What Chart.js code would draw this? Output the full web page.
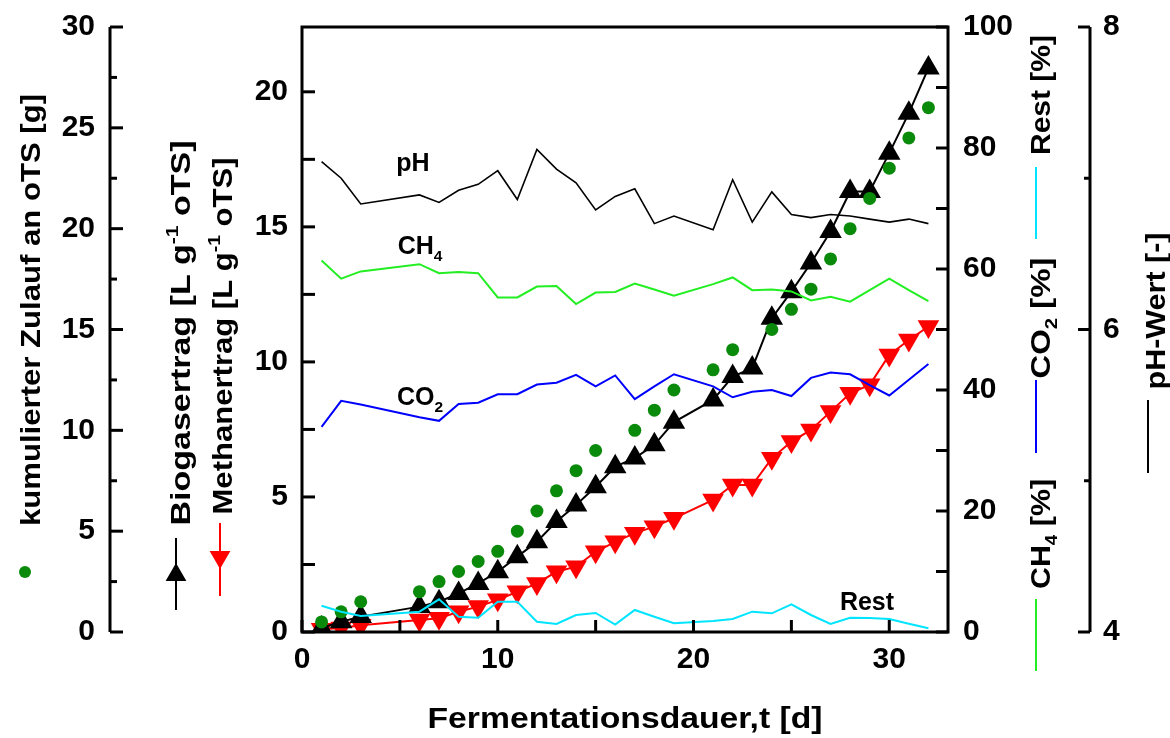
<!DOCTYPE html>
<html>
<head>
<meta charset="utf-8">
<script src="https://cdn.jsdelivr.net/npm/chart.js@4.4.1/dist/chart.umd.min.js"></script>
<style>
  body { margin: 0; background: #fff; }
  canvas { display: block; }
</style>
</head>
<body>
<canvas id="chart" width="1170" height="738"></canvas>
<script>
// days with measurements
var days = [1, 2, 3, 6, 7, 8, 9, 10, 11, 12, 13, 14, 15, 16, 17, 18, 19, 21, 22, 23, 24, 25, 26, 27, 28, 29, 30, 31, 32];

// yields [L g-1 oTS]
var biogas = [0.15, 0.38, 0.57, 0.94, 1.12, 1.43, 1.8, 2.23, 2.79, 3.34, 4.09, 4.7, 5.38, 6.12, 6.44, 6.93, 7.77,
              8.59, 9.46, 9.77, 11.62, 12.6, 13.66, 14.83, 16.31, 16.31, 17.73, 19.21, 20.88];
var methan = [0.1, 0.15, 0.25, 0.44, 0.51, 0.75, 0.94, 1.19, 1.49, 1.8, 2.23, 2.42, 2.97, 3.34, 3.66, 3.9, 4.21,
              4.89, 5.44, 5.44, 6.43, 7.05, 7.48, 8.16, 8.84, 9.15, 10.26, 10.81, 11.31];

// cumulative feed [g]
var zulauf = [0.5, 1, 1.5, 2, 2.5, 3, 3.5, 4, 5, 6, 7, 8, 9, null, 10, 11, 12,
              13, 14, null, 15, 16, 17, 18.5, 20, 21.5, 23, 24.5, 26];

// gas composition [%]
var ch4 = [61.4, 58.4, 59.6, 60.8, 59.3, 59.5, 59.3, 55.3, 55.3, 57.1, 57.2, 54.2, 56.1, 56.2, 57.6, 56.6, 55.6,
           57.5, 58.6, 56.5, 56.6, 56.3, 54.8, 55.4, 54.6, 56.5, 58.4, 56.5, 54.7];
var co2 = [33.9, 38.2, 37.6, 35.5, 34.9, 37.7, 37.9, 39.3, 39.3, 40.9, 41.2, 42.5, 40.6, 42.4, 38.5, 40.6, 42.6,
           40.6, 38.8, 39.7, 40.0, 39.0, 42.0, 42.9, 42.6, 40.8, 39.1, 41.7, 44.3];
var rest = [4.35, 3.36, 2.64, 3.36, 5.4, 2.53, 2.36, 5.0, 5.0, 1.7, 1.32, 2.81, 3.14, 1.24, 3.64, 2.53, 1.44,
            1.82, 2.15, 3.36, 3.09, 4.58, 2.81, 1.32, 2.36, 2.31, 2.15, 1.37, 0.61];

// pH
var ph = [7.11, 7.0, 6.83, 6.89, 6.84, 6.92, 6.96, 7.05, 6.86, 7.19, 7.06, 6.97, 6.79, 6.88, 6.93, 6.70, 6.75,
          6.66, 6.99, 6.71, 6.91, 6.76, 6.74, 6.76, 6.75, 6.73, 6.71, 6.73, 6.70];

var FONT = "'Liberation Sans', Arial, sans-serif";

function pts(arr) {
    return days.map(function(d, i) { return { x: d, y: arr[i] }; });
}

function lineSet(arr, color, axis, width) {
    return { data: pts(arr), yAxisID: axis, borderColor: color, borderWidth: width || 2,
             pointRadius: 0, showLine: true, fill: false, tension: 0 };
}

// rich text: parts [{t, sub, sup}] centered at cx,cy, rotated, stretched to len
function richText(ctx, parts, cx, cy, angle, size, len) {
    ctx.save();
    ctx.translate(cx, cy);
    ctx.rotate(angle);
    var w = 0;
    parts.forEach(function(p) {
        ctx.font = 'bold ' + ((p.sub || p.sup) ? size * 0.62 : size) + 'px ' + FONT;
        w += ctx.measureText(p.t).width;
    });
    if (len) ctx.scale(len / w, 1);
    var x = -w / 2, base = size * 0.36;
    ctx.fillStyle = '#000';
    ctx.textBaseline = 'alphabetic';
    ctx.textAlign = 'left';
    parts.forEach(function(p) {
        ctx.font = 'bold ' + ((p.sub || p.sup) ? size * 0.62 : size) + 'px ' + FONT;
        var y = base + (p.sub ? size * 0.28 : 0) - (p.sup ? size * 0.42 : 0);
        ctx.fillText(p.t, x, y);
        x += ctx.measureText(p.t).width;
    });
    ctx.restore();
}

function vline(ctx, x, y1, y2, color, w) {
    ctx.beginPath(); ctx.strokeStyle = color; ctx.lineWidth = w || 2;
    ctx.moveTo(x, y1); ctx.lineTo(x, y2); ctx.stroke();
}

function tri(ctx, x, y, r, down, color) {
    var s = down ? -1 : 1;
    ctx.beginPath(); ctx.fillStyle = color;
    ctx.moveTo(x, y - s * r);
    ctx.lineTo(x + r * 0.866, y + s * r * 0.5);
    ctx.lineTo(x - r * 0.866, y + s * r * 0.5);
    ctx.closePath(); ctx.fill();
}

var decor = {
    id: 'decor',
    afterDraw: function(chart) {
        var ctx = chart.ctx, a = chart.chartArea, s = chart.scales;
        ctx.save();
        ctx.lineCap = 'butt';
        // frame
        ctx.strokeStyle = '#000'; ctx.lineWidth = 3;
        ctx.strokeRect(a.left, a.top, a.right - a.left, a.bottom - a.top);

        function ticksY(scale, x, step, from, to, len, dir, minorLen) {
            for (var v = from, i = 0; v <= to + 1e-9; v += step, i++) {
                var py = scale.getPixelForValue(v);
                var l = (minorLen && i % 2 === 1) ? minorLen : len;
                ctx.beginPath(); ctx.lineWidth = 3;
                ctx.moveTo(x, py); ctx.lineTo(x + dir * l, py); ctx.stroke();
            }
        }
        // x ticks
        for (var v = 0; v <= 30; v += 5) {
            var px = s.x.getPixelForValue(v);
            ctx.beginPath(); ctx.lineWidth = 3;
            ctx.moveTo(px, a.bottom); ctx.lineTo(px, a.bottom - 12); ctx.stroke();
        }
        ticksY(s.y, a.left, 2.5, 0, 22.4, 13, 1);
        ticksY(s.yP, a.right, 10, 0, 100, 12, -1);
        // outer left axis
        var xo = s.yZ.right;
        vline(ctx, xo, s.yZ.getPixelForValue(30), s.yZ.getPixelForValue(0), '#000', 3);
        ticksY(s.yZ, xo, 2.5, 0, 30, 13, 1, 7);
        // pH axis
        var xh = s.yH.left;
        vline(ctx, xh, s.yH.getPixelForValue(8), s.yH.getPixelForValue(4), '#000', 3);
        ticksY(s.yH, xh, 1, 4, 8, 12, -1, 6);

        // labels in plot
        richText(ctx, [{ t: 'pH' }], 413, 162, 0, 25);
        richText(ctx, [{ t: 'CH' }, { t: '4', sub: 1 }], 420, 245, 0, 25);
        richText(ctx, [{ t: 'CO' }, { t: '2', sub: 1 }], 420, 396, 0, 25);
        richText(ctx, [{ t: 'Rest' }], 867, 601, 0, 25);

        // x title
        richText(ctx, [{ t: 'Fermentationsdauer,t [d]' }], 625, 718, 0, 29, 395);

        // left titles + legend symbols
        var up = -Math.PI / 2;
        richText(ctx, [{ t: 'kumulierter Zulauf an oTS [g]' }], 30, 310, up, 27, 432);
        ctx.beginPath(); ctx.fillStyle = '#0a8a0a';
        ctx.arc(25, 572, 6, 0, Math.PI * 2); ctx.fill();

        richText(ctx, [{ t: 'Biogasertrag [L g' }, { t: '-1', sup: 1 }, { t: ' oTS]' }], 180, 333, up, 27, 385);
        vline(ctx, 176, 538, 610, '#000', 2);
        tri(ctx, 176, 575, 12, false, '#000');

        richText(ctx, [{ t: 'Methanertrag [L g' }, { t: '-1', sup: 1 }, { t: ' oTS]' }], 222, 336, up, 27, 357);
        vline(ctx, 220, 523, 596, '#ff0000', 2);
        tri(ctx, 220, 557, 12, true, '#ff0000');

        // right titles + legend lines
        richText(ctx, [{ t: 'Rest [%]' }], 1040, 95, up, 27, 120);
        vline(ctx, 1036, 167, 239, '#00e5ff', 2);
        richText(ctx, [{ t: 'CO' }, { t: '2', sub: 1 }, { t: ' [%]' }], 1040, 318, up, 27, 121);
        vline(ctx, 1036, 380, 453, '#0000ff', 2);
        richText(ctx, [{ t: 'CH' }, { t: '4', sub: 1 }, { t: ' [%]' }], 1040, 534, up, 27, 110);
        vline(ctx, 1036, 599, 671, '#22ee22', 2);
        richText(ctx, [{ t: 'pH-Wert [-]' }], 1155, 311, up, 27, 157);
        vline(ctx, 1148, 400, 473, '#000', 2);

        ctx.restore();
    }
};

var tickFont = { family: FONT, size: 30, weight: 'bold' };

function yAxis(pos, min, max, step, weight, width, pad, cb) {
    return {
        type: 'linear', position: pos, min: min, max: max, weight: weight,
        grid: { display: false, drawTicks: false }, border: { display: false },
        ticks: { stepSize: step, includeBounds: false, padding: pad, color: '#000', font: tickFont,
                 callback: cb || function(v) { return v; } },
        afterFit: function(scale) {
            scale.width = width;
            scale.paddingTop = 0;
            scale.paddingBottom = 0;
        }
    };
}

new Chart(document.getElementById('chart'), {
    type: 'scatter',
    data: {
        datasets: [
            lineSet(ph, '#000000', 'yH', 1.6),
            lineSet(rest, '#00e5ff', 'yP'),
            lineSet(co2, '#0000ff', 'yP'),
            lineSet(ch4, '#22ee22', 'yP'),
            { data: pts(zulauf), yAxisID: 'yZ', showLine: false, pointStyle: 'circle', pointRadius: 6.5,
              backgroundColor: '#0a8a0a', borderWidth: 0 },
            { data: pts(biogas), yAxisID: 'y', showLine: true, borderColor: '#000', borderWidth: 2,
              pointStyle: 'triangle', pointRadius: 13, backgroundColor: '#000', pointBorderWidth: 0 },
            { data: pts(methan), yAxisID: 'y', showLine: true, borderColor: '#ff0000', borderWidth: 2,
              pointStyle: 'triangle', pointRotation: 180, pointRadius: 12.5, backgroundColor: '#ff0000',
              pointBorderWidth: 0 }
        ]
    },
    options: {
        responsive: false,
        animation: false,
        devicePixelRatio: 1,
        layout: { padding: { left: 0, right: 0, top: 27, bottom: 0 } },
        plugins: { legend: { display: false }, tooltip: { enabled: false } },
        scales: {
            x: {
                type: 'linear', position: 'bottom', min: 0, max: 33,
                grid: { display: false, drawTicks: false }, border: { display: false },
                ticks: { stepSize: 10, includeBounds: false, padding: 10, color: '#000', font: tickFont,
                         maxRotation: 0 },
                afterFit: function(scale) {
                    scale.height = 106;
                    scale.paddingLeft = 0;
                    scale.paddingRight = 0;
                }
            },
            y: yAxis('left', 0, 22.4, 5, 0, 192, 14),
            yZ: yAxis('left', 0, 30, 5, 1, 110, 15),
            yP: yAxis('right', 0, 100, 20, 0, 142, 15),
            yH: yAxis('right', 4, 8, 1, 1, 80, 13, function(v) { return v % 2 === 0 ? v : ''; })
        }
    },
    plugins: [decor]
});
</script>
</body>
</html>
